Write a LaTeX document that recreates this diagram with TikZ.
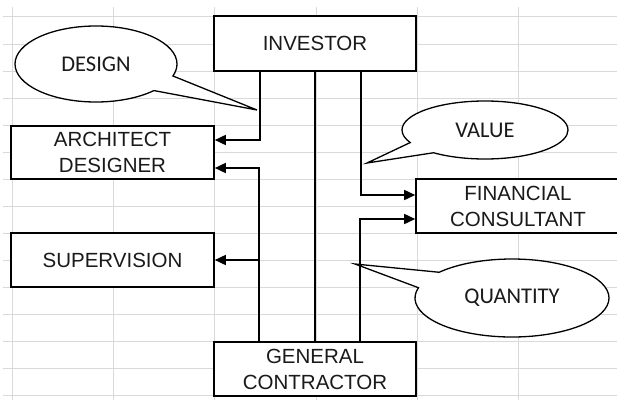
\documentclass[tikz,border=0pt]{standalone}
\usepackage{fontspec}
\setmainfont{Liberation Sans}
\newfontfamily\bubblefont{Carlito}
\usetikzlibrary{arrows.meta,shapes.callouts}
\definecolor{gridgray}{HTML}{D9D9D9}
\definecolor{ink}{HTML}{1A1A1A}
\tikzset{
  box/.style={draw=black,fill=white,line width=1.6pt,inner sep=0pt,align=center,font=\fontsize{20.5}{26}\selectfont,text=ink},
  bubble/.style={ellipse callout,draw=black,fill=white,line width=1.3pt,inner sep=0pt,callout pointer arc=26,font=\bubblefont\fontsize{22.5}{26}\selectfont,text=ink},
  link/.style={draw=black,line width=1.6pt},
  arr/.style={-{Triangle[length=11pt,width=10pt]},draw=black,line width=1.6pt},
  cell/.style={draw=gridgray,line width=1pt}
}

\begin{document}
\begin{tikzpicture}[x=1pt,y=1pt]
\useasboundingbox (0,0) rectangle (617,400);
% spreadsheet grid
\foreach \gx in {12,113,214,316,417,518} \draw[cell] (\gx,0) -- (\gx,393);
\foreach \gy in {5,32,...,383} \draw[cell] (3,\gy) -- (617,\gy);
% callouts
\coordinate (designtip) at (257,290);
\node[bubble,minimum width=162pt,minimum height=76pt,callout absolute pointer=(designtip)] (design) at (96,336) {DESIGN};
\coordinate (valuetip) at (367,237);
\node[bubble,minimum width=166pt,minimum height=58pt,callout absolute pointer=(valuetip)] (value) at (485,270) {VALUE};
\coordinate (quantitytip) at (355,136);
\node[bubble,minimum width=194pt,minimum height=78pt,callout absolute pointer=(quantitytip)] (quantity) at (512,102) {QUANTITY};
% parties
\node[box,minimum width=202pt,minimum height=55pt] (investor) at (315,356.5) {INVESTOR};
\node[box,minimum width=203pt,minimum height=53pt] (architect) at (112.5,247.5) {ARCHITECT\\DESIGNER};
\node[box,minimum width=203pt,minimum height=54pt] (supervision) at (112.5,140) {SUPERVISION};
\node[box,minimum width=202pt,minimum height=54pt] (contractor) at (315,31) {GENERAL\\CONTRACTOR};
\node[box,minimum width=204pt,minimum height=54pt] (financial) at (518,194) {FINANCIAL\\CONSULTANT};
% flows
\coordinate (contractorleft) at ([xshift=-56pt]contractor.north);
\draw[arr] ([xshift=-55pt]investor.south) |- ([yshift=12.5pt]architect.east);
\draw[arr] (contractorleft) |- ([yshift=-15.5pt]architect.east);
\draw[arr] (contractorleft |- supervision.east) -- (supervision.east);
\draw[link] (investor.south) -- (contractor.north);
\draw[arr] ([xshift=46pt]investor.south) |- ([yshift=11pt]financial.west);
\draw[arr] ([xshift=45pt]contractor.north) |- ([yshift=-13pt]financial.west);
\end{tikzpicture}
\end{document}
